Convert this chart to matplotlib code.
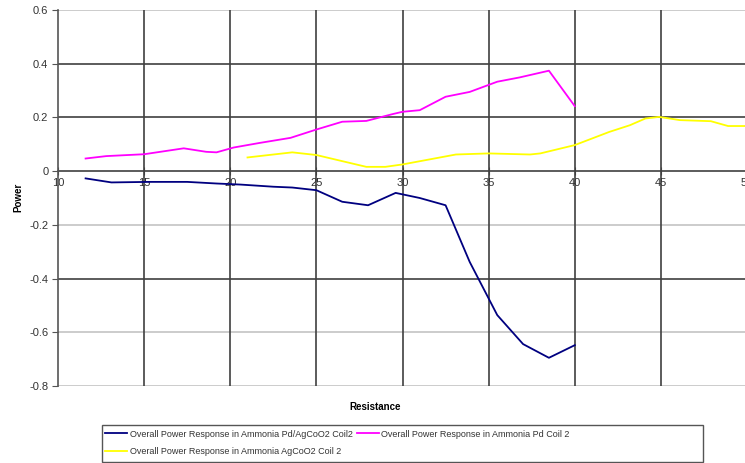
import matplotlib.pyplot as plt
from matplotlib.patches import Rectangle

plt.rcParams['font.family'] = ['Liberation Sans', 'DejaVu Sans']

# Overall Power Response in Ammonia Pd/AgCoO2 Coil2
res_pdag = [11.6, 13.1, 15.3, 17.5, 19.2, 20.6, 22.5, 23.6, 25.0, 26.5, 28.0,
            29.6, 31.0, 32.5, 33.9, 35.5, 37.0, 38.5, 40.0]
pow_pdag = [-0.027, -0.042, -0.040, -0.040, -0.046, -0.050, -0.058, -0.061,
            -0.071, -0.114, -0.127, -0.081, -0.100, -0.127, -0.338, -0.536,
            -0.644, -0.695, -0.648]

# Overall Power Response in Ammonia Pd Coil 2
res_pd = [11.6, 12.8, 15.0, 17.3, 18.6, 19.2, 20.2, 21.7, 23.5, 25.0, 26.5,
          27.9, 29.4, 30.0, 31.0, 32.5, 33.9, 35.5, 36.8, 38.5, 40.0]
pow_pd = [0.047, 0.056, 0.063, 0.085, 0.072, 0.070, 0.088, 0.105, 0.124,
          0.155, 0.184, 0.187, 0.212, 0.221, 0.227, 0.277, 0.295, 0.333,
          0.349, 0.374, 0.242]

# Overall Power Response in Ammonia AgCoO2 Coil 2
res_ag = [21.0, 23.6, 25.0, 27.9, 29.0, 30.0, 33.1, 35.0, 37.4, 38.0, 40.0,
          42.0, 43.2, 44.1, 44.9, 46.1, 47.9, 48.9, 50.0]
pow_ag = [0.051, 0.070, 0.060, 0.016, 0.016, 0.025, 0.062, 0.066, 0.062,
          0.066, 0.097, 0.146, 0.171, 0.196, 0.202, 0.190, 0.186, 0.168, 0.168]

x_ticks = [10, 15, 20, 25, 30, 35, 40, 45, 50]
y_ticks = [-0.8, -0.6, -0.4, -0.2, 0, 0.2, 0.4, 0.6]
y_labels = ['-0.8', '-0.6', '-0.4', '-0.2', '0', '0.2', '0.4', '0.6']
dark_rows = [0.4, 0.2, -0.4]
light_rows = [0.6, -0.2, -0.6, -0.8]

fig = plt.figure(figsize=(7.45, 4.63), dpi=100)
ax = fig.add_axes([0.0779, 0.1663, 0.9248, 0.8121])

for y in light_rows:
    ax.axhline(y, color='#c8c8c8', lw=1.3, zorder=1)
for y in dark_rows:
    ax.axhline(y, color='#404040', lw=1.2, zorder=1)
for x in x_ticks[1:-1]:
    ax.axvline(x, color='#404040', lw=1.2, zorder=1)

l1, = ax.plot(res_pdag, pow_pdag, color='#000080', lw=1.3, zorder=3,
              label='Overall Power Response in Ammonia Pd/AgCoO2 Coil2')
l2, = ax.plot(res_pd, pow_pd, color='#ff00ff', lw=1.3, zorder=3,
              label='Overall Power Response in Ammonia Pd Coil 2')
l3, = ax.plot(res_ag, pow_ag, color='#ffff00', lw=1.3, zorder=3,
              label='Overall Power Response in Ammonia AgCoO2 Coil 2')

ax.set_xlim(10, 50)
ax.set_ylim(-0.8, 0.6)
ax.set_xticks(x_ticks)
ax.set_yticks(y_ticks)
ax.set_yticklabels(y_labels)

for s in ['top', 'right']:
    ax.spines[s].set_visible(False)
ax.spines['bottom'].set_position(('data', 0))
ax.spines['bottom'].set_color('#404040')
ax.spines['bottom'].set_linewidth(1.2)
ax.spines['left'].set_color('#555555')
ax.spines['left'].set_linewidth(1.2)
ax.spines['bottom'].set_zorder(2)

ax.tick_params(axis='y', direction='out', length=4, color='#555555',
               labelsize=8, labelcolor='#333333', pad=3)
ax.tick_params(axis='x', direction='inout', length=6, color='#404040',
               labelsize=8, labelcolor='#333333', pad=2)

fig.text(0.024, 0.574, 'Power', fontsize=7, fontweight='bold',
         rotation=90, ha='center', va='center')
fig.text(0.503, 0.122, 'Resistance', fontsize=7, fontweight='bold',
         ha='center', va='center')

# legend box (wider than its contents, as in the original)
fig.patches.append(Rectangle((0.1369, 0.0022), 0.8067, 0.0799,
                             transform=fig.transFigure, fill=False,
                             edgecolor='#555555', lw=1.0))
leg = fig.legend([l1, l3, l2], [l1.get_label(), l3.get_label(), l2.get_label()],
                 loc='upper left', bbox_to_anchor=(0.139, 0.076), ncol=2,
                 fontsize=6.5, frameon=False,
                 handlelength=2.4, handletextpad=0.3, columnspacing=0.5,
                 borderpad=0.2, labelspacing=0.9, borderaxespad=0)
for t in leg.get_texts():
    t.set_color('#333333')

fig.savefig('out.png', dpi=100)
